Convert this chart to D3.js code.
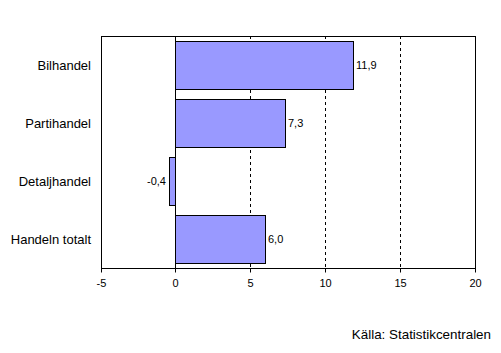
<!DOCTYPE html>
<html>
<head>
<meta charset="utf-8">
<script src="https://cdn.jsdelivr.net/npm/d3@7"></script>
<style>
  body { margin: 0; background: #fff; }
  svg { display: block; font-family: "Liberation Sans", Arial, sans-serif; }
</style>
</head>
<body>
<svg id="chart" width="501" height="353"></svg>
<script>
const categories = ["Bilhandel", "Partihandel", "Detaljhandel", "Handeln totalt"];
const values = [11.9, 7.3, -0.4, 6.0];
const ticks = [-5, 0, 5, 10, 15, 20];
const gridTicks = [5, 10, 15];
const source = "Källa: Statistikcentralen";

const svg = d3.select("#chart");
const plotLeft = 101, plotRight = 475, plotTop = 36, plotBottom = 268;

// rangeRound keeps lines on whole pixels
const x = d3.scaleLinear().domain([-5, 20]).rangeRound([plotLeft - 0.4, plotRight - 0.4]);
const y = d3.scaleBand().domain(categories).range([plotTop, plotBottom])
  .paddingInner(0.172).paddingOuter(0.086);

const fmt = v => d3.format(".1f")(Math.abs(v)).replace(".", ",");
const label = v => (v < 0 ? "-" : "") + fmt(v);

// dashed gridlines
svg.append("g").selectAll("line").data(gridTicks).enter().append("line")
  .attr("x1", d => x(d) + 0.5).attr("x2", d => x(d) + 0.5)
  .attr("y1", plotTop).attr("y2", plotBottom)
  .attr("stroke", "#000").attr("stroke-dasharray", "3,3");

// bars
svg.append("g").selectAll("rect").data(values).enter().append("rect")
  .attr("x", d => Math.min(x(d), x(0)) + 0.5)
  .attr("y", (d, i) => Math.round(y(categories[i])) + 0.5)
  .attr("width", d => Math.abs(x(d) - x(0)))
  .attr("height", Math.round(y.bandwidth()))
  .attr("fill", "#9999ff").attr("stroke", "#000");

// zero line
svg.append("line")
  .attr("x1", x(0) + 0.5).attr("x2", x(0) + 0.5)
  .attr("y1", plotTop).attr("y2", plotBottom).attr("stroke", "#000");

// frame
svg.append("rect")
  .attr("x", plotLeft + 0.5).attr("y", plotTop + 0.5)
  .attr("width", plotRight - plotLeft).attr("height", plotBottom - plotTop)
  .attr("fill", "none").attr("stroke", "#000");

// x axis
const xAxis = svg.append("g")
  .attr("transform", `translate(0,${plotBottom + 0.5})`)
  .call(d3.axisBottom(x).tickValues(ticks).tickSize(4).tickPadding(7).tickFormat(d => String(d)));
xAxis.select(".domain").remove();
xAxis.selectAll("text").attr("font-size", 11).attr("font-family", "Liberation Sans, Arial, sans-serif").attr("fill", "#000");
xAxis.selectAll("line").attr("stroke", "#000");

// category labels
svg.append("g").selectAll("text").data(categories).enter().append("text")
  .attr("x", 91)
  .attr("y", d => y(d) + y.bandwidth() / 2)
  .attr("dy", "0.35em")
  .attr("text-anchor", "end")
  .attr("font-size", 13)
  .text(d => d);

// value labels
svg.append("g").selectAll("text").data(values).enter().append("text")
  .attr("x", d => d >= 0 ? x(d) + 3 : x(d) - 3)
  .attr("y", (d, i) => y(categories[i]) + y.bandwidth() / 2)
  .attr("dy", "0.35em")
  .attr("text-anchor", d => d >= 0 ? "start" : "end")
  .attr("font-size", 11)
  .text(d => label(d));

// source
svg.append("text")
  .attr("x", 491).attr("y", 334).attr("dy", "0.35em")
  .attr("text-anchor", "end").attr("font-size", 13.4)
  .text(source);
</script>
</body>
</html>
